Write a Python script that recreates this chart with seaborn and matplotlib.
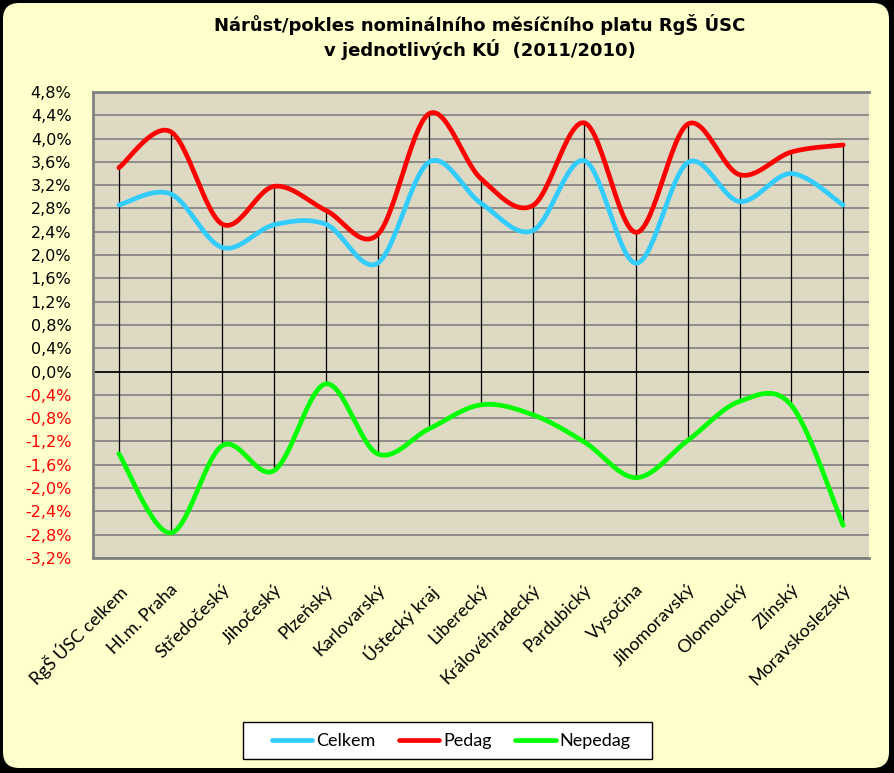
import numpy as np
import pandas as pd
import matplotlib
matplotlib.use("Agg")
import matplotlib.pyplot as plt
import seaborn as sns
from matplotlib.patches import FancyBboxPatch, Rectangle
from matplotlib.lines import Line2D
from matplotlib.ticker import FuncFormatter
import matplotlib.transforms as mtransforms

categories = ["RgŠ ÚSC celkem", "Hl.m. Praha", "Středočeský", "Jihočeský", "Plzeňský",
              "Karlovarský", "Ústecký kraj", "Liberecký", "Královéhradecký", "Pardubický",
              "Vysočina", "Jihomoravský", "Olomoucký", "Zlínský", "Moravskoslezský"]
celkem = [2.86, 3.05, 2.13, 2.52, 2.53, 1.86, 3.60, 2.89, 2.42, 3.62, 1.86, 3.59, 2.92, 3.40, 2.86]
pedag = [3.50, 4.12, 2.53, 3.18, 2.77, 2.35, 4.43, 3.31, 2.85, 4.27, 2.39, 4.25, 3.38, 3.77, 3.89]
nepedag = [-1.41, -2.77, -1.27, -1.70, -0.21, -1.41, -0.98, -0.57, -0.74, -1.21, -1.82, -1.18, -0.51, -0.58, -2.64]
series_names = ["Celkem", "Pedag", "Nepedag"]
colors = ["#33CCFF", "#FF0000", "#00FF00"]
yticks = np.round(np.arange(-3.2, 4.81, 0.4), 1)
title = "Nárůst/pokles nominálního měsíčního platu RgŠ ÚSC\nv jednotlivých KÚ  (2011/2010)"


def smooth(xs, ys, n=30):
    """Bezier (Catmull-Rom style) smoothing like Excel's smoothed line."""
    xs = np.asarray(xs, float); ys = np.asarray(ys, float)
    P = np.column_stack([xs, ys])
    Pe = np.vstack([P[0], P, P[-1]])
    out = []
    t = np.linspace(0, 1, n)[:, None]
    for i in range(len(P) - 1):
        p0, p1, p2, p3 = Pe[i], Pe[i + 1], Pe[i + 2], Pe[i + 3]
        c1 = p1 + (p2 - p0) / 6.0
        c2 = p2 - (p3 - p1) / 6.0
        seg = ((1 - t) ** 3) * p1 + 3 * ((1 - t) ** 2) * t * c1 + 3 * (1 - t) * t ** 2 * c2 + t ** 3 * p2
        out.append(seg if i == 0 else seg[1:])
    return np.vstack(out)


x = np.arange(len(categories))
frames = []
for name, vals in zip(series_names, [celkem, pedag, nepedag]):
    s = smooth(x, vals)
    frames.append(pd.DataFrame({"x": s[:, 0], "y": s[:, 1], "series": name}))
df = pd.concat(frames, ignore_index=True)

sns.set_style("white")
plt.rcParams["font.family"] = ["DejaVu Sans"]
plt.rcParams["text.color"] = "black"
plt.rcParams["xtick.color"] = "black"
plt.rcParams["ytick.color"] = "black"

W, H = 894, 773
fig = plt.figure(figsize=(W / 100, H / 100), dpi=100, facecolor="black")
bg = FancyBboxPatch((3 / W, 5 / H), (W - 8) / W, (H - 8) / H,
                    boxstyle="round,pad=0,rounding_size=0.018", mutation_aspect=W / H,
                    transform=fig.transFigure, facecolor="#FFFFCC", edgecolor="none", zorder=-10)
fig.patches.append(bg)

ax = fig.add_axes([93 / W, 1 - 558 / H, (869 - 93) / W, (558 - 92) / H])
ax.set_facecolor("#DDD9C3")

# high-low lines
hi = np.maximum.reduce([celkem, pedag, nepedag])
lo = np.minimum.reduce([celkem, pedag, nepedag])
ax.vlines(x, lo, hi, color="black", lw=0.9, zorder=2)

sns.lineplot(data=df, x="x", y="y", hue="series", palette=dict(zip(series_names, colors)),
             hue_order=series_names, sort=False, estimator=None,
             lw=3.4, legend=False, ax=ax, zorder=3)

ax.set_xlim(-0.5, len(categories) - 0.5)
ax.set_ylim(-3.2, 4.8)
ax.set_yticks(yticks)
ax.yaxis.set_major_formatter(FuncFormatter(lambda v, p: f"{v:.1f}".replace(".", ",").replace("-0,0", "0,0") + "%"))
ax.yaxis.grid(True, color="#808080", lw=1.2, zorder=1)
ax.set_axisbelow(True)
ax.axhline(0, color="black", lw=1.2, zorder=2)
ax.spines["right"].set_visible(False)
for sp in ["left", "bottom", "top"]:
    ax.spines[sp].set_color("#808080")
    ax.spines[sp].set_linewidth(2)
ax.tick_params(axis="y", which="major", length=4.5, width=1.2, color="#808080", direction="out",
               labelsize=11.5, pad=11, labelcolor="black")
ax.set_xlabel(""); ax.set_ylabel("")
for lab, v in zip(ax.get_yticklabels(), yticks):
    lab.set_color("red" if v < -0.001 else "black")

ax.set_xticks(x)
ax.set_xticklabels(categories, rotation=45, ha="right", va="top", rotation_mode="anchor",
                   fontsize=13, family=["Lato", "DejaVu Sans"], color="black")
ax.tick_params(axis="x", length=0, pad=17)
offset = mtransforms.ScaledTranslation(-1 / 100, 0, fig.dpi_scale_trans)
for lab in ax.get_xticklabels():
    lab.set_transform(lab.get_transform() + offset)

fig.text(480 / W, 1 - 14 / H, title, ha="center", va="top", fontsize=13, weight="bold",
         family=["Liberation Sans Narrow", "DejaVu Sans"], linespacing=1.25, color="black")

# legend box
fig.patches.append(Rectangle((243 / W, 1 - 759 / H), 409 / W, 37 / H, transform=fig.transFigure,
                             facecolor="white", edgecolor="black", lw=1.0, zorder=5))
handles = [Line2D([], [], color=c, lw=3.4) for c in colors]
leg = fig.legend(handles, series_names, loc="center", bbox_to_anchor=(451 / W, 1 - 741 / H),
                 ncol=3, frameon=False, prop={"family": ["Lato", "DejaVu Sans"], "size": 13},
                 handlelength=2.25, handletextpad=0.2, columnspacing=1.3, borderpad=0.3)
leg.set_zorder(6)

fig.savefig("out.png", dpi=100, facecolor=fig.get_facecolor())
